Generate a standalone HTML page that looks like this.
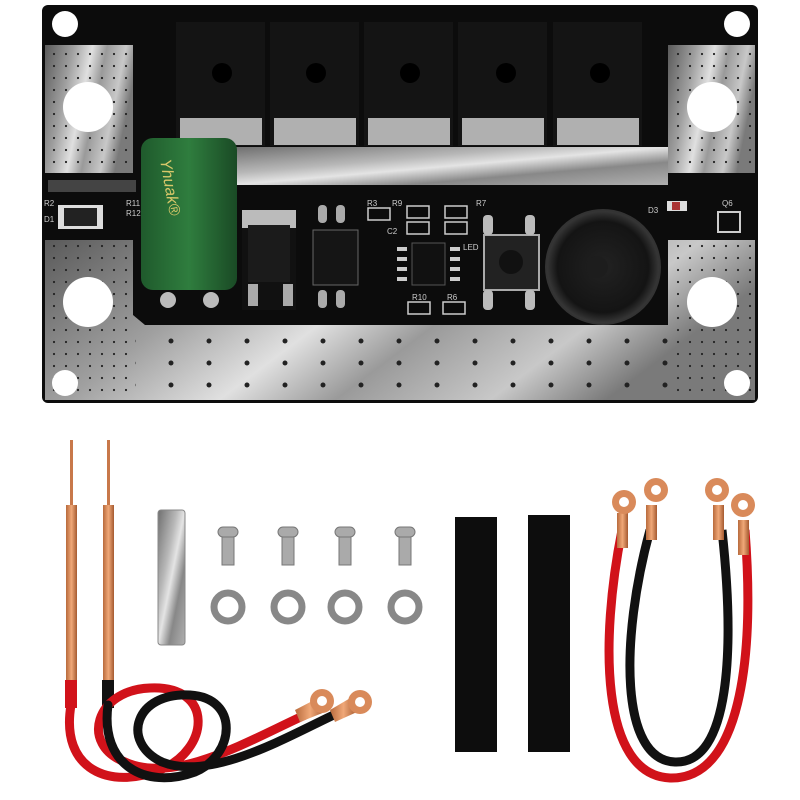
<!DOCTYPE html>
<html><head><meta charset="utf-8"><style>html,body{margin:0;padding:0;background:#fff}svg{display:block}</style></head>
<body>
<svg width="800" height="800" viewBox="0 0 800 800" xmlns="http://www.w3.org/2000/svg" font-family="Liberation Sans, sans-serif">
<defs>
<linearGradient id="sil" x1="0" y1="0" x2="1" y2="1">
<stop offset="0" stop-color="#6f6f6f"/><stop offset="0.35" stop-color="#b8b8b8"/><stop offset="0.5" stop-color="#e4e4e4"/><stop offset="0.7" stop-color="#888"/><stop offset="1" stop-color="#b0b0b0"/>
</linearGradient>
<linearGradient id="silb" x1="0" y1="0" x2="1" y2="0.3">
<stop offset="0" stop-color="#5a5a5a"/><stop offset="0.3" stop-color="#a0a0a0"/><stop offset="0.5" stop-color="#e0e0e0"/><stop offset="0.65" stop-color="#9a9a9a"/><stop offset="0.85" stop-color="#c8c8c8"/><stop offset="1" stop-color="#7a7a7a"/>
</linearGradient>
<linearGradient id="cap" x1="0" x2="1"><stop offset="0" stop-color="#1f5a2c"/><stop offset="0.5" stop-color="#2f7d3e"/><stop offset="1" stop-color="#1a4a25"/></linearGradient>
<linearGradient id="cu" x1="0" x2="1"><stop offset="0" stop-color="#b86a3c"/><stop offset="0.5" stop-color="#f0a878"/><stop offset="1" stop-color="#a55a30"/></linearGradient>
<radialGradient id="buz"><stop offset="0" stop-color="#222"/><stop offset="0.8" stop-color="#141414"/><stop offset="1" stop-color="#3a3a3a"/></radialGradient>
<pattern id="dots" width="12" height="12" patternUnits="userSpaceOnUse"><circle cx="6" cy="6" r="1.1" fill="#222"/></pattern>
<pattern id="dots2" width="38" height="22" patternUnits="userSpaceOnUse"><circle cx="19" cy="11" r="2.5" fill="#222"/></pattern>
</defs>
<rect x="42" y="5" width="716" height="398" rx="6" fill="#0c0c0c"/>
<rect x="45" y="45" width="88" height="128" fill="url(#silb)"/>
<rect x="668" y="45" width="87" height="128" fill="url(#silb)"/>
<path d="M45 240 H133 V315 L145 325 H668 V240 H755 V400 H45 Z" fill="url(#silb)"/>
<rect x="233" y="147" width="435" height="38" fill="url(#sil)"/>
<rect x="45" y="45" width="88" height="128" fill="url(#dots)"/>
<rect x="668" y="45" width="87" height="128" fill="url(#dots)"/>
<rect x="45" y="240" width="88" height="160" fill="url(#dots)"/>
<rect x="668" y="240" width="87" height="160" fill="url(#dots)"/>
<rect x="135" y="325" width="533" height="75" fill="url(#dots2)"/>
<circle cx="65" cy="24" r="13" fill="#fff"/><circle cx="737" cy="24" r="13" fill="#fff"/>
<circle cx="65" cy="383" r="13" fill="#fff"/><circle cx="737" cy="383" r="13" fill="#fff"/>
<circle cx="88" cy="107" r="25" fill="#fff"/><circle cx="712" cy="107" r="25" fill="#fff"/>
<circle cx="88" cy="302" r="25" fill="#fff"/><circle cx="712" cy="302" r="25" fill="#fff"/>
<g>
<rect x="176" y="22" width="89" height="124" fill="#141414"/><rect x="180" y="118" width="82" height="27" fill="#b0b0b0"/><circle cx="222" cy="73" r="10" fill="#000"/>
<rect x="270" y="22" width="89" height="124" fill="#141414"/><rect x="274" y="118" width="82" height="27" fill="#b0b0b0"/><circle cx="316" cy="73" r="10" fill="#000"/>
<rect x="364" y="22" width="89" height="124" fill="#141414"/><rect x="368" y="118" width="82" height="27" fill="#b0b0b0"/><circle cx="410" cy="73" r="10" fill="#000"/>
<rect x="458" y="22" width="89" height="124" fill="#141414"/><rect x="462" y="118" width="82" height="27" fill="#b0b0b0"/><circle cx="506" cy="73" r="10" fill="#000"/>
<rect x="553" y="22" width="89" height="124" fill="#141414"/><rect x="557" y="118" width="82" height="27" fill="#b0b0b0"/><circle cx="600" cy="73" r="10" fill="#000"/>
</g>
<rect x="141" y="138" width="96" height="152" rx="12" fill="url(#cap)"/>
<text x="160" y="160" transform="rotate(80 160 160)" fill="#d8c86a" font-size="16" font-style="italic">Yhuak®</text>
<circle cx="168" cy="300" r="8" fill="#bbb"/><circle cx="211" cy="300" r="8" fill="#bbb"/>
<rect x="58" y="205" width="45" height="24" fill="#ddd"/><rect x="64" y="208" width="33" height="18" fill="#222"/>
<g fill="#ccc" font-size="8"><text x="44" y="206">R2</text><text x="126" y="206">R11</text><text x="126" y="216">R12</text><text x="44" y="222">D1</text>
<text x="367" y="206">R3</text><text x="392" y="206">R9</text><text x="476" y="206">R7</text><text x="387" y="234">C2</text><text x="463" y="250">LED</text><text x="412" y="300">R10</text><text x="447" y="300">R6</text><text x="648" y="213">D3</text><text x="722" y="206">Q6</text></g>
<rect x="48" y="180" width="88" height="12" fill="#444"/>
<rect x="242" y="210" width="54" height="100" fill="#111"/><rect x="242" y="210" width="54" height="18" fill="#bbb"/><rect x="248" y="225" width="42" height="57" fill="#1b1b1b"/>
<rect x="248" y="284" width="10" height="22" fill="#aaa"/><rect x="283" y="284" width="10" height="22" fill="#aaa"/>
<rect x="318" y="205" width="9" height="18" rx="4" fill="#aaa"/><rect x="336" y="205" width="9" height="18" rx="4" fill="#aaa"/>
<rect x="313" y="230" width="45" height="55" fill="#151515" stroke="#666"/>
<rect x="318" y="290" width="9" height="18" rx="4" fill="#aaa"/><rect x="336" y="290" width="9" height="18" rx="4" fill="#aaa"/>
<rect x="412" y="243" width="33" height="42" fill="#111" stroke="#555"/>
<g fill="#ccc"><rect x="397" y="247" width="10" height="4"/><rect x="397" y="257" width="10" height="4"/><rect x="397" y="267" width="10" height="4"/><rect x="397" y="277" width="10" height="4"/>
<rect x="450" y="247" width="10" height="4"/><rect x="450" y="257" width="10" height="4"/><rect x="450" y="267" width="10" height="4"/><rect x="450" y="277" width="10" height="4"/></g>
<g fill="none" stroke="#ccc" stroke-width="1.5"><rect x="368" y="208" width="22" height="12"/><rect x="407" y="206" width="22" height="12"/><rect x="445" y="206" width="22" height="12"/><rect x="407" y="222" width="22" height="12"/><rect x="445" y="222" width="22" height="12"/><rect x="408" y="302" width="22" height="12"/><rect x="443" y="302" width="22" height="12"/></g>
<rect x="484" y="235" width="55" height="55" fill="#222" stroke="#aaa" stroke-width="2"/><circle cx="511" cy="262" r="12" fill="#111"/>
<rect x="483" y="215" width="10" height="20" rx="4" fill="#bbb"/><rect x="525" y="215" width="10" height="20" rx="4" fill="#bbb"/>
<rect x="483" y="290" width="10" height="20" rx="4" fill="#bbb"/><rect x="525" y="290" width="10" height="20" rx="4" fill="#bbb"/>
<circle cx="603" cy="267" r="57" fill="url(#buz)" stroke="#333" stroke-width="2"/><circle cx="597" cy="267" r="11" fill="#1d1d1d"/>
<rect x="667" y="201" width="20" height="10" fill="#ddd"/><rect x="672" y="202" width="8" height="8" fill="#a33"/>
<rect x="718" y="212" width="22" height="20" fill="none" stroke="#ccc" stroke-width="2"/>
<g>
<rect x="70" y="440" width="3" height="70" fill="#c8784a"/><rect x="107" y="440" width="3" height="70" fill="#c8784a"/>
<rect x="66" y="505" width="11" height="180" fill="url(#cu)"/><rect x="103" y="505" width="11" height="180" fill="url(#cu)"/>
<rect x="65" y="680" width="12" height="28" fill="#d1121a"/><rect x="102" y="680" width="12" height="28" fill="#111"/>
</g>
<path d="M71 705 C60 770 110 790 160 770 C210 750 215 685 150 688 C95 690 80 745 125 762 C175 785 250 740 305 715" fill="none" stroke="#d1121a" stroke-width="9" stroke-linecap="round"/>
<path d="M108 705 C100 765 145 790 195 772 C235 755 240 698 190 695 C135 692 120 742 162 762 C212 782 290 735 340 712" fill="none" stroke="#111" stroke-width="9" stroke-linecap="round"/>
<g fill="url(#cu)"><path d="M295 710 L320 697 L325 712 L300 722Z"/><circle cx="322" cy="701" r="12" fill="#d98a5a"/><circle cx="322" cy="701" r="5" fill="#fff"/>
<path d="M330 710 L352 697 L357 712 L335 722Z"/><circle cx="360" cy="702" r="12" fill="#d98a5a"/><circle cx="360" cy="702" r="5" fill="#fff"/></g>
<rect x="158" y="510" width="27" height="135" rx="3" fill="url(#sil)" stroke="#888"/>
<g>
<g fill="#aaa" stroke="#777">
<rect x="218" y="527" width="20" height="10" rx="5"/><rect x="222" y="537" width="12" height="28"/>
<rect x="278" y="527" width="20" height="10" rx="5"/><rect x="282" y="537" width="12" height="28"/>
<rect x="335" y="527" width="20" height="10" rx="5"/><rect x="339" y="537" width="12" height="28"/>
<rect x="395" y="527" width="20" height="10" rx="5"/><rect x="399" y="537" width="12" height="28"/>
</g>
<g fill="#fff" stroke="#888" stroke-width="7">
<circle cx="228" cy="607" r="14"/><circle cx="288" cy="607" r="14"/><circle cx="345" cy="607" r="14"/><circle cx="405" cy="607" r="14"/></g>
</g>
<rect x="455" y="517" width="42" height="235" fill="#0d0d0d"/><rect x="528" y="515" width="42" height="237" fill="#0d0d0d"/>
<path d="M622 530 C600 640 600 775 670 778 C740 780 755 660 745 530" fill="none" stroke="#d1121a" stroke-width="9"/>
<path d="M650 530 C620 640 620 760 675 762 C730 764 735 650 722 530" fill="none" stroke="#111" stroke-width="9"/>
<g>
<rect x="617" y="513" width="11" height="35" fill="url(#cu)"/><rect x="646" y="505" width="11" height="35" fill="url(#cu)"/>
<rect x="713" y="505" width="11" height="35" fill="url(#cu)"/><rect x="738" y="520" width="11" height="35" fill="url(#cu)"/>
<circle cx="624" cy="502" r="12" fill="#d98a5a"/><circle cx="624" cy="502" r="5" fill="#fff"/>
<circle cx="656" cy="490" r="12" fill="#d98a5a"/><circle cx="656" cy="490" r="5" fill="#fff"/>
<circle cx="717" cy="490" r="12" fill="#d98a5a"/><circle cx="717" cy="490" r="5" fill="#fff"/>
<circle cx="743" cy="505" r="12" fill="#d98a5a"/><circle cx="743" cy="505" r="5" fill="#fff"/>
</g>
</svg>
</body></html>
